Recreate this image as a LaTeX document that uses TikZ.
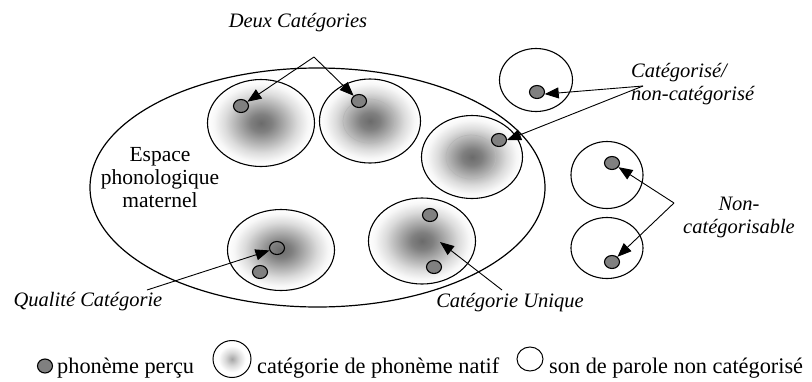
\documentclass[tikz,border=0pt]{standalone}
\usepackage{fontspec}
\setmainfont{Liberation Serif}
\usetikzlibrary{shapes.geometric,arrows.meta}
\pgfdeclareradialshading{catshade}{\pgfpoint{0bp}{0bp}}{color(0bp)=(black!58); color(5bp)=(black!50); color(11bp)=(black!32); color(17bp)=(black!14); color(22bp)=(black!3); color(25bp)=(white); color(50bp)=(white)}
\pgfdeclareradialshading{legshade}{\pgfpoint{0bp}{0bp}}{color(0bp)=(black!35); color(9bp)=(black!15); color(18bp)=(white); color(50bp)=(white)}
\begin{document}
\begin{tikzpicture}[x=1pt,y=-1pt,
  cat/.style={ellipse, draw, line width=1.1pt, shading=catshade, inner sep=0pt},
  ncat/.style={ellipse, draw, line width=1.1pt, inner sep=0pt},
  ring/.style={ellipse, draw=black!28, line width=0.7pt, inner sep=0pt},
  pdot/.style={ellipse, draw, line width=1.1pt, fill=black!50, minimum width=15pt, minimum height=13pt, inner sep=0pt},
  odot/.style={ellipse, draw, line width=1.1pt, minimum width=15pt, minimum height=13pt, inner sep=0pt},
  lbl/.style={font=\fontsize{20.5}{23}\selectfont\itshape, inner sep=0pt},
  txt/.style={font=\fontsize{21.5}{23}\selectfont, inner sep=0pt},
  leg/.style={font=\fontsize{22.3}{26}\selectfont, inner sep=0pt, anchor=base west},
  arr/.style={-{Triangle[length=14pt,width=11pt]}, line width=0.9pt}]
\useasboundingbox (0,0) rectangle (812,381);

% category circles
\node[cat, minimum width=107pt, minimum height=87pt] (c1) at (261,123) {};
\node[cat, minimum width=101pt, minimum height=84pt] (c2) at (370,121) {};
\node[cat, minimum width=101pt, minimum height=83pt] (c3) at (472,157) {};
\node[cat, minimum width=107pt, minimum height=81pt] (c4) at (281,250) {};
\node[cat, minimum width=107pt, minimum height=86pt] (c5) at (422,241) {};
\node[ring, minimum width=52pt, minimum height=44pt] (r2) at (369,121) {};
\node[ring, minimum width=50pt, minimum height=44pt] (r3) at (471,157) {};

% uncategorised circles
\node[ncat, minimum width=73pt, minimum height=63pt] (cA) at (536,80) {};
\node[ncat, minimum width=72pt, minimum height=67pt] (cB) at (607,175) {};
\node[ncat, minimum width=72pt, minimum height=61pt] (cC) at (607,248) {};

% maternal phonological space
\node[ellipse, draw, line width=1.2pt, minimum width=455pt, minimum height=239pt, inner sep=0pt] (space) at (317.5,187.5) {};
\node[txt, align=center] (spacelbl) at (160,178) {Espace\\phonologique\\maternel};

% perceived phonemes
\node[pdot] (d1) at (241,106) {};
\node[pdot] (d2) at (359,101) {};
\node[pdot] (d3) at (499,140) {};
\node[odot] (d4o) at (277,248) {};
\node[pdot] (d4) at (260,272) {};
\node[pdot] (d5a) at (430,215) {};
\node[pdot] (d5b) at (434,267) {};
\node[pdot] (dA) at (537,92) {};
\node[pdot] (dB) at (612,163) {};
\node[pdot] (dC) at (612,262) {};

% labels
\node[lbl, anchor=base] (deux) at (298,27) {Deux Catégories};
\node[lbl, anchor=west, align=left] (categ) at (631,84) {Catégorisé/\\non-catégorisé};
\node[lbl, anchor=center, align=center] (noncat) at (739,217) {Non-\\catégorisable};
\node[lbl, anchor=base] (qual) at (88,306) {Qualité Catégorie};
\node[lbl, anchor=base] (uniq) at (510,307) {Catégorie Unique};

% arrow apexes
\coordinate (aDeux) at (314,57);
\coordinate (aCat) at (643,86);
\coordinate (aNon) at (674,203);
\coordinate (aQual) at (147,290);
\coordinate (aUniq) at (502,290);
\coordinate (uTip) at (440,242);

\draw[arr] (aDeux) -- (d1);
\draw[arr] (aDeux) -- (d2);
\draw[arr] (aCat) -- (dA.-15);
\draw[arr] (aCat) -- (d3.east);
\draw[arr] (aNon) -- (dB);
\draw[arr] (aNon) -- (dC);
\draw[arr] (aQual) -- (d4o);
\draw[arr] (aUniq) -- (uTip);

% legend
\node[pdot, minimum width=15pt, minimum height=14pt] (ldot) at (45,366) {};
\node[leg] (ltxt1) at (57,373) {phonème perçu};
\node[ellipse, draw, line width=1pt, shading=legshade, minimum width=38pt, minimum height=37pt, inner sep=0pt] (lcat) at (232,359) {};
\node[leg] (ltxt2) at (257,373) {catégorie de phonème natif};
\node[ncat, line width=1pt, minimum width=26pt, minimum height=24pt] (lnc) at (530,359) {};
\node[leg] (ltxt3) at (549,373) {son de parole non catégorisé};
\end{tikzpicture}
\end{document}
